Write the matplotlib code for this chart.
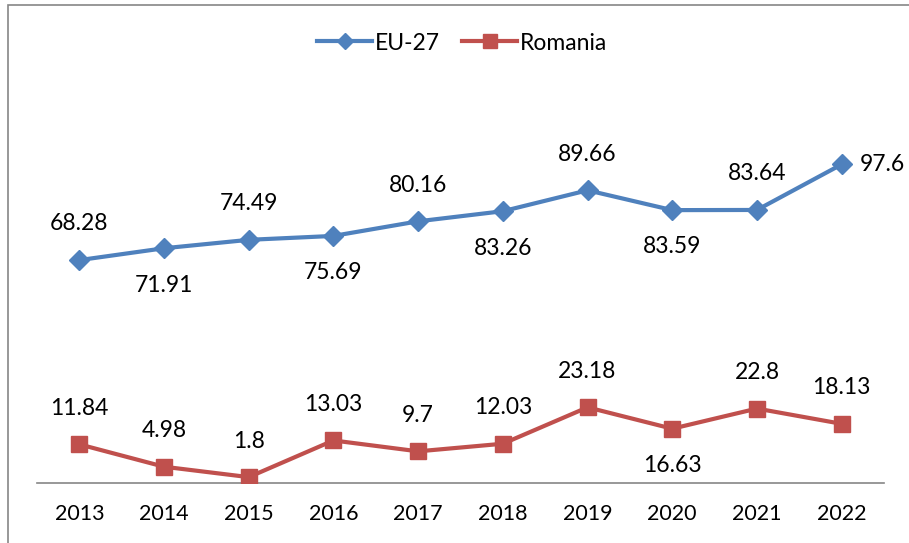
import matplotlib.pyplot as plt
from matplotlib.patches import Rectangle

years = ["2013", "2014", "2015", "2016", "2017", "2018", "2019", "2020", "2021", "2022"]
eu27 = [68.28, 71.91, 74.49, 75.69, 80.16, 83.26, 89.66, 83.59, 83.64, 97.6]
romania = [11.84, 4.98, 1.8, 13.03, 9.7, 12.03, 23.18, 16.63, 22.8, 18.13]

# where each data label sits relative to its point
eu_pos = ["above", "below", "above", "below", "above", "below", "above", "below", "above", "right"]
ro_pos = ["above"] * 7 + ["below"] + ["above"] * 2

BLUE = "#4F81BD"
RED = "#C0504D"
plt.rcParams["font.family"] = ["Lato", "DejaVu Sans"]

fig = plt.figure(figsize=(9.09, 5.43), dpi=100)
ax = fig.add_axes([37 / 909, 60 / 543, (884 - 37) / 909, 395 / 543])

x = list(range(len(years)))
ax.plot(x, eu27, color=BLUE, lw=3, marker="D", ms=10, label="EU-27", zorder=3)
ax.plot(x, romania, color=RED, lw=3, marker="s", ms=12, label="Romania", zorder=3)

ax.set_xlim(-0.5, len(years) - 0.5)
ax.set_ylim(0, 121)
ax.set_xticks(x)
ax.set_xticklabels(years, fontsize=15.5)
ax.tick_params(axis="x", length=0, pad=15)
ax.set_yticks([])
for s in ["top", "right", "left"]:
    ax.spines[s].set_visible(False)
ax.spines["bottom"].set_color("#868686")
ax.spines["bottom"].set_linewidth(1.2)


def put_labels(vals, where):
    for i, (v, p) in enumerate(zip(vals, where)):
        if p == "above":
            ax.annotate(f"{v:g}", (i, v), xytext=(0, 26), textcoords="offset points",
                        ha="center", va="center", fontsize=16.5)
        elif p == "below":
            ax.annotate(f"{v:g}", (i, v), xytext=(0, -26.5), textcoords="offset points",
                        ha="center", va="center", fontsize=16.5)
        else:
            ax.annotate(f"{v:g}", (i, v), xytext=(13, 0), textcoords="offset points",
                        ha="left", va="center", fontsize=16.5)


put_labels(eu27, eu_pos)
put_labels(romania, ro_pos)

ax.legend(loc="center", bbox_to_anchor=(462 / 909, 1 - 43 / 543), bbox_transform=fig.transFigure,
          ncol=2, frameon=False, fontsize=16.5, handlelength=2.4, handletextpad=0.1,
          columnspacing=1.0, markerscale=0.85)

# chart frame
fig.patches.append(Rectangle((8 / 909, -0.05), 1.2, 1 - 5 / 543 + 0.05, transform=fig.transFigure,
                             fill=False, edgecolor="#868686", lw=1.2))
# clipped text from the page above
fig.text(843 / 909, 1 + 8 / 543, "g", fontsize=15, ha="left", va="baseline")

fig.savefig("out.png", dpi=100)
